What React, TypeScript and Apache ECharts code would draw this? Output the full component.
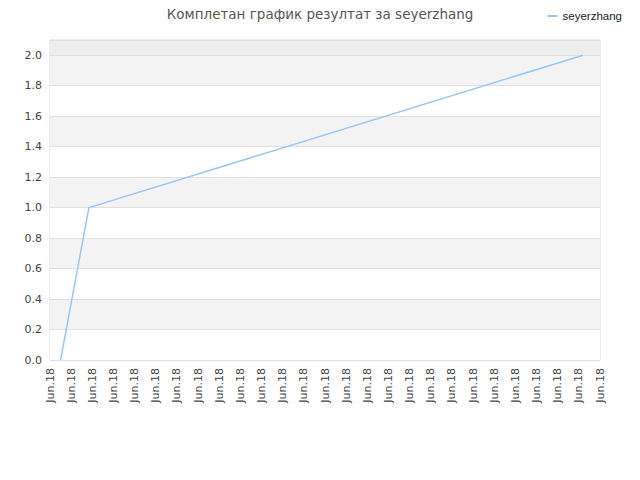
import * as echarts from "echarts";
import { useEffect, useRef } from "react";

// 27 tick labels along the x axis, all the same date
const xTickLabels = Array(27).fill("Jun.18");
// positions of the points, in tick units
const pointX = [0.5, 1.84, 25.2];
const pointY = [0, 1, 2];
const seriesName = "seyerzhang";
const titleText = "Комплетан график резултат за seyerzhang";

const bandColors = [
  "#ffffff", "#f3f3f3", "#ffffff", "#f3f3f3", "#ffffff",
  "#f3f3f3", "#ffffff", "#f3f3f3", "#ffffff", "#f3f3f3", "#ededed",
];

export default function App() {
  const chartRef = useRef<HTMLDivElement>(null);

  useEffect(() => {
    if (!chartRef.current) return;
    const chart = echarts.init(chartRef.current, null, { renderer: "svg" });

    chart.setOption({
      animation: false,
      textStyle: { fontFamily: "DejaVu Sans, sans-serif" },
      title: {
        text: titleText,
        left: "center",
        top: 2,
        textStyle: {
          fontSize: 13.5,
          fontWeight: "normal",
          color: "#555",
        },
      },
      legend: {
        top: 5,
        right: 13,
        itemWidth: 10,
        itemHeight: 2,
        itemGap: 8,
        icon: "rect",
        data: [seriesName],
        textStyle: {
          fontSize: 11.5,
          color: "#222",
          fontFamily: "Liberation Sans, Arial, sans-serif",
        },
      },
      grid: {
        left: 50,
        right: 40,
        top: 40,
        bottom: 120,
        show: true,
        borderColor: "#dcdcdc",
        borderWidth: 1,
      },
      xAxis: {
        type: "value",
        min: 0,
        max: xTickLabels.length - 1,
        interval: 1,
        axisLine: { show: false },
        axisTick: { show: false },
        splitLine: { show: false },
        axisLabel: {
          rotate: 90,
          fontSize: 11,
          color: "#444",
          margin: 8,
          formatter: (v: number) => xTickLabels[Math.round(v)] ?? "",
        },
      },
      yAxis: {
        type: "value",
        min: 0,
        max: 2.1,
        interval: 0.2,
        axisLine: { show: false },
        axisTick: { show: false },
        axisLabel: {
          fontSize: 11,
          color: "#444",
          margin: 8,
          showMaxLabel: false,
          formatter: (v: number) => v.toFixed(1),
        },
        splitLine: { show: true, lineStyle: { color: "#e0e0e0", width: 1 } },
        splitArea: { show: true, areaStyle: { color: bandColors } },
      },
      series: [
        {
          name: seriesName,
          type: "line",
          data: pointX.map((x, i) => [x, pointY[i]]),
          symbol: "none",
          lineStyle: { color: "#9ac6f5", width: 1.5 },
          itemStyle: { color: "#9ac6f5" },
        },
      ],
    });

    return () => chart.dispose();
  }, []);

  return <div ref={chartRef} style={{ width: 640, height: 480, margin: -8 }} />;
}
